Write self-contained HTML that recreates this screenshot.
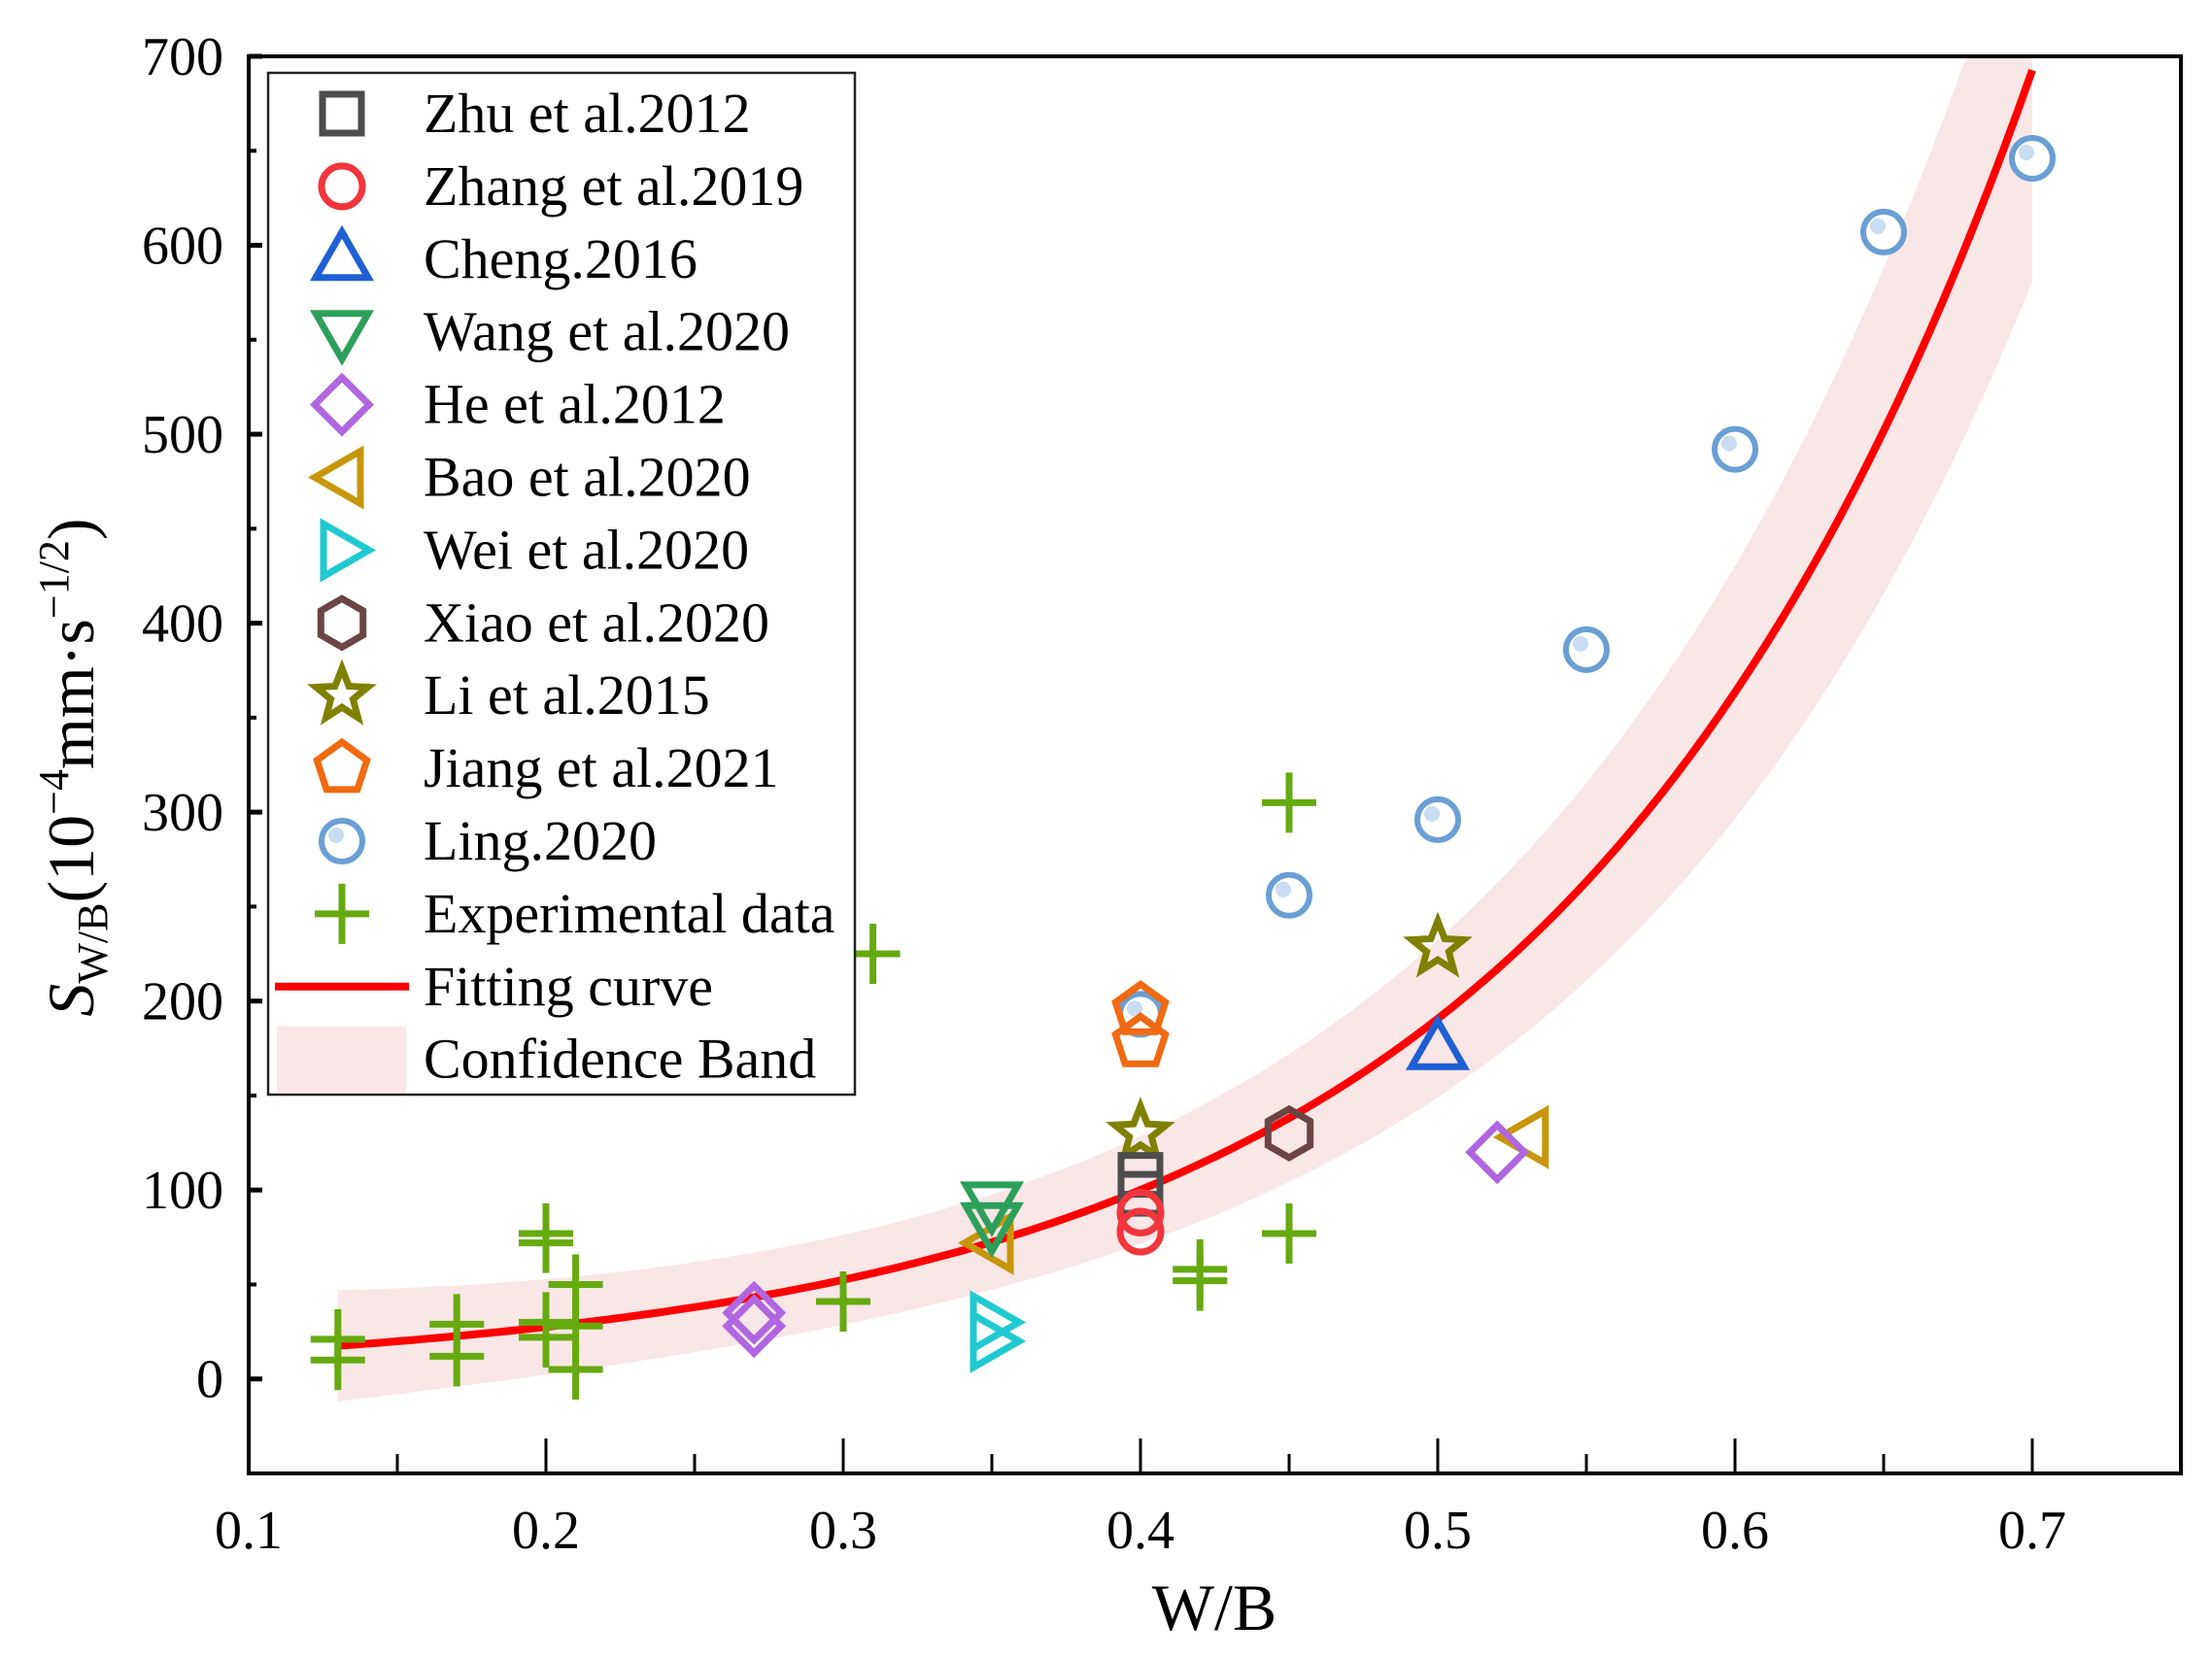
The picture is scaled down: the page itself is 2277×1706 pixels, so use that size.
<!DOCTYPE html>
<html><head><meta charset="utf-8"><style>
html,body{margin:0;padding:0;background:#fff;}
svg{display:block;font-family:"Liberation Serif",serif;}
</style></head><body>
<svg id="chart" width="2277" height="1706" viewBox="0 0 2277 1706" xmlns="http://www.w3.org/2000/svg">
<defs>
<clipPath id="plotclip"><rect x="256" y="58" width="1989" height="1459"/></clipPath>
</defs>
<g id="band-layer" clip-path="url(#plotclip)"></g>
<g id="marks" clip-path="url(#plotclip)"></g>
<g id="axes"></g>
<g id="legend"></g>
<text x="1250" y="1678" font-size="68" text-anchor="middle">W/B</text>
<text transform="translate(96,790) rotate(-90)" font-size="68" text-anchor="middle"><tspan font-style="italic">S</tspan><tspan font-size="44" dy="14">W/B</tspan><tspan dy="-14">(10</tspan><tspan font-size="44" dy="-26">−4</tspan><tspan dy="26">mm·s</tspan><tspan font-size="44" dy="-26">−1/2</tspan><tspan dy="26">)</tspan></text>
</svg>
<script>
const xTicks=[0.1,0.2,0.3,0.4,0.5,0.6,0.7];
const yTicks=[0,100,200,300,400,500,600,700];
const seriesNames=["Zhu et al.2012","Zhang et al.2019","Cheng.2016","Wang et al.2020","He et al.2012","Bao et al.2020","Wei et al.2020","Xiao et al.2020","Li et al.2015","Jiang et al.2021","Ling.2020","Experimental data"];
const zhuX=[0.4,0.4], zhuY=[108,98];
const zhangX=[0.4,0.4], zhangY=[88,78];
const chengX=[0.5], chengY=[175];
const wangX=[0.35,0.35], wangY=[93,82];
const heX=[0.27,0.27,0.52], heY=[35,28,120];
const baoX=[0.35,0.53], baoY=[72,128];
const weiX=[0.35,0.35], weiY=[30,20];
const xiaoX=[0.45], xiaoY=[130];
const liX=[0.4,0.5], liY=[130,228];
const jiangX=[0.4,0.4], jiangY=[195,178];
const lingX=[0.4,0.45,0.5,0.55,0.6,0.65,0.7], lingY=[193,256,296,386,492,607,646];
const expX=[0.13,0.13,0.17,0.17,0.2,0.2,0.2,0.2,0.21,0.21,0.21,0.3,0.31,0.42,0.42,0.45,0.45];
const expY=[21,10,29,12,77,72,30,22,50,5,28,41,225,58,52,305,77];
const fitA=7.58, fitB=6.45;

const NS="http://www.w3.org/2000/svg";
const X0=0.1,X1=0.75,Y0=-50,Y1=700,PL=256,PR=2245,PT=58,PB=1517;
const sx=v=>PL+(v-X0)/(X1-X0)*(PR-PL);
const sy=v=>PB-(v-Y0)/(Y1-Y0)*(PB-PT);
function mk(tag,attrs,parent){const e=document.createElementNS(NS,tag);for(const k in attrs)e.setAttribute(k,attrs[k]);parent.appendChild(e);return e;}

const colors=["#4d4d4d","#f2353c","#1f5fd6","#2ca05a","#b066e0","#c8960a","#1ecad0","#6b4545","#808000","#f06a10","#6a9fd6","#66aa10"];
function marker(type,cx,cy,g,col){
  const sw=7;
  switch(type){
    case 0: return mk('rect',{x:cx-20,y:cy-20,width:40,height:40,fill:'none',stroke:col,'stroke-width':sw},g);
    case 1: return mk('circle',{cx:cx,cy:cy,r:21,fill:'none',stroke:col,'stroke-width':sw},g);
    case 2: return mk('polygon',{points:`${cx},${cy-28} ${cx+27},${cy+19} ${cx-27},${cy+19}`,fill:'none',stroke:col,'stroke-width':sw},g);
    case 3: return mk('polygon',{points:`${cx},${cy+28} ${cx+27},${cy-19} ${cx-27},${cy-19}`,fill:'none',stroke:col,'stroke-width':sw},g);
    case 4: return mk('polygon',{points:`${cx},${cy-28} ${cx+28},${cy} ${cx},${cy+28} ${cx-28},${cy}`,fill:'none',stroke:col,'stroke-width':sw},g);
    case 5: return mk('polygon',{points:`${cx-28},${cy} ${cx+19},${cy-27} ${cx+19},${cy+27}`,fill:'none',stroke:col,'stroke-width':sw},g);
    case 6: return mk('polygon',{points:`${cx+28},${cy} ${cx-19},${cy-27} ${cx-19},${cy+27}`,fill:'none',stroke:col,'stroke-width':sw},g);
    case 7: {let p=[];for(let i=0;i<6;i++){const a=Math.PI/6+i*Math.PI/3;p.push((cx+25*Math.cos(a)).toFixed(1)+','+(cy+25*Math.sin(a)).toFixed(1));}return mk('polygon',{points:p.join(' '),fill:'none',stroke:col,'stroke-width':sw},g);}
    case 8: {let p=[];for(let i=0;i<10;i++){const r=i%2?12:28;const a=-Math.PI/2+i*Math.PI/5;p.push((cx+r*Math.cos(a)).toFixed(1)+','+(cy+r*Math.sin(a)).toFixed(1));}return mk('polygon',{points:p.join(' '),fill:'none',stroke:col,'stroke-width':sw},g);}
    case 9: {let p=[];for(let i=0;i<5;i++){const a=-Math.PI/2+i*2*Math.PI/5;p.push((cx+27*Math.cos(a)).toFixed(1)+','+(cy+27*Math.sin(a)).toFixed(1));}return mk('polygon',{points:p.join(' '),fill:'none',stroke:col,'stroke-width':sw},g);}
    case 10: {const gg=mk('g',{},g);mk('circle',{cx:cx,cy:cy,r:21,fill:'#fff',stroke:col,'stroke-width':6},gg);mk('circle',{cx:cx-6,cy:cy-6,r:8,fill:'#c8dcf2'},gg);return gg;}
    case 11: {const gg=mk('g',{},g);mk('line',{x1:cx-28,y1:cy,x2:cx+28,y2:cy,stroke:col,'stroke-width':7},gg);mk('line',{x1:cx,y1:cy-31,x2:cx,y2:cy+31,stroke:col,'stroke-width':7},gg);return gg;}
  }
}

const band=document.getElementById('band-layer');
const fit=x=>fitA*Math.exp(fitB*x);
const hw=x=>18+0.1*fit(x)+200*(x-0.35)*(x-0.35);
let up=[],lo=[],fl=[];
for(let x=0.13;x<=0.7001;x+=0.005){const f=fit(x),h=hw(x);up.push(sx(x).toFixed(1)+','+sy(f+h).toFixed(1));lo.push(sx(x).toFixed(1)+','+sy(f-h).toFixed(1));fl.push(sx(x).toFixed(1)+','+sy(f).toFixed(1));}
const bandEl=mk('polygon',{points:up.concat(lo.reverse()).join(' '),fill:'#f4d2d2','fill-opacity':0.55},band);


const fitEl=mk('polyline',{points:fl.join(' '),fill:'none',stroke:'#ff0000','stroke-width':8},band);



const marks=document.getElementById('marks');
const allX=[zhuX,zhangX,chengX,wangX,heX,baoX,weiX,xiaoX,liX,jiangX,lingX,expX];
const allY=[zhuY,zhangY,chengY,wangY,heY,baoY,weiY,xiaoY,liY,jiangY,lingY,expY];
const order=[11,10,9,8,7,6,5,4,3,2,0,1];
order.forEach(s=>{
  allX[s].forEach((x,i)=>{
    const m=marker(s,sx(x),sy(allY[s][i]),marks,colors[s]);
    
    
  });
});

const ax=document.getElementById('axes');
mk('rect',{x:PL,y:PT,width:PR-PL,height:PB-PT,fill:'none',stroke:'#000','stroke-width':4},ax);
xTicks.forEach(t=>{
  const x=sx(t);
  mk('line',{x1:x,y1:PB,x2:x,y2:PB-36,stroke:'#000','stroke-width':3},ax);
  const tx=mk('text',{x:x,y:1594,'font-size':56,'text-anchor':'middle'},ax);tx.textContent=t.toFixed(1);
  
  
  const xm=sx(t+0.05); if(t+0.05<X1) mk('line',{x1:xm,y1:PB,x2:xm,y2:PB-20,stroke:'#000','stroke-width':3},ax);
});
yTicks.forEach(t=>{
  const y=sy(t);
  mk('line',{x1:PL,y1:y,x2:PL+14,y2:y,stroke:'#000','stroke-width':5},ax);
  const ty=mk('text',{x:230,y:y+19,'font-size':56,'text-anchor':'end'},ax);ty.textContent=t;
  
  
  if(t<700){const ym=sy(t+50);mk('line',{x1:PL,y1:ym,x2:PL+8,y2:ym,stroke:'#000','stroke-width':4},ax);}
});

const lg=document.getElementById('legend');
mk('rect',{x:276,y:75,width:604,height:1052,fill:'#fff',stroke:'#222','stroke-width':2.5},lg);
seriesNames.forEach((n,i)=>{
  const y=117+i*74.9;
  const m=marker(i,352,y,lg,colors[i]);
  
  
  const t=mk('text',{x:436,y:y+19,'font-size':58},lg);t.textContent=n;
  
  
});
const ly=117+12*74.9;
mk('line',{x1:283,y1:ly,x2:421,y2:ly,stroke:'#ff0000','stroke-width':8},lg);
const t1=mk('text',{x:436,y:ly+19,'font-size':58},lg);t1.textContent='Fitting curve';


const ly2=117+13*74.9;
mk('rect',{x:285,y:ly2-34,width:133,height:68,fill:'#f4d2d2','fill-opacity':0.55},lg);
const t2=mk('text',{x:436,y:ly2+19,'font-size':58},lg);t2.textContent='Confidence Band';


</script>
</body></html>
